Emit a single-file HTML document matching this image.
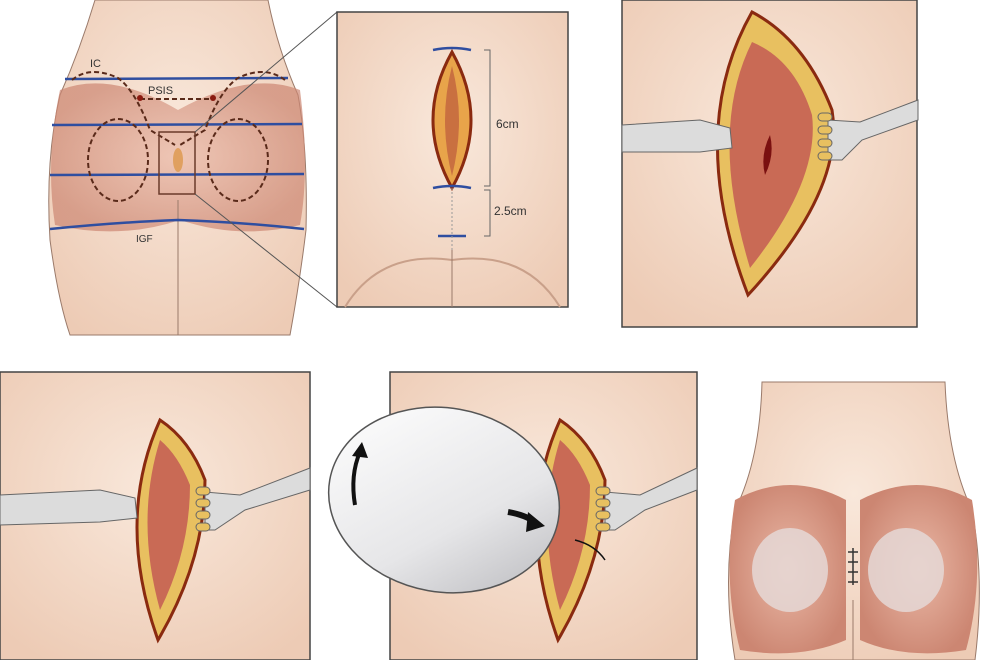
<!DOCTYPE html>
<html><head><style>body{margin:0;background:#fff}svg{display:block}</style></head><body>
<svg width="990" height="660" viewBox="0 0 990 660" xmlns="http://www.w3.org/2000/svg" font-family="Liberation Sans, sans-serif">
<defs>
<radialGradient id="m" cx="50%" cy="50%" r="55%"><stop offset="0" stop-color="#eab8a6"/><stop offset="1" stop-color="#cc8672"/></radialGradient>
<radialGradient id="sk" cx="50%" cy="40%" r="70%"><stop offset="0" stop-color="#f9e8db"/><stop offset="1" stop-color="#edcbb5"/></radialGradient>
<linearGradient id="imp" x1="0" y1="0" x2="1" y2="1"><stop offset="0" stop-color="#fff"/><stop offset="0.6" stop-color="#e6e6e8"/><stop offset="1" stop-color="#b8b8bc"/></linearGradient>
</defs>
<rect width="990" height="660" fill="#fff"/>
<path d="M95,0 Q80,50 60,95 Q45,160 50,240 Q58,300 70,335 L290,335 Q300,280 306,230 Q308,150 298,95 Q278,50 268,0 Z" fill="url(#sk)" stroke="#9a7a6a"/>
<path d="M60,90 Q110,70 178,110 Q250,70 300,90 Q310,170 300,225 Q240,240 180,220 Q120,240 55,225 Q45,160 60,90Z" fill="url(#m)" opacity="0.7"/>
<line x1="178" y1="200" x2="178" y2="335" stroke="#9a7a6a"/>
<g stroke="#2f4ea0" stroke-width="2.5" fill="none">
<path d="M65,79 L288,78"/><path d="M52,125 L302,124"/><path d="M50,175 L304,174"/><path d="M50,229 Q120,222 178,220 Q240,222 304,229"/>
</g>
<g stroke="#5a2a1a" stroke-width="2" fill="none" stroke-dasharray="5,3">
<ellipse cx="118" cy="160" rx="30" ry="41"/><ellipse cx="238" cy="160" rx="30" ry="41"/>
<path d="M72,80 Q90,65 118,78 Q135,90 150,130 L175,145"/><path d="M285,80 Q265,65 238,78 Q220,90 205,130 L180,145"/>
<path d="M140,99 L213,99"/>
</g>
<circle cx="140" cy="98" r="3" fill="#8a1a10"/><circle cx="213" cy="98" r="3" fill="#8a1a10"/>
<rect x="159" y="132" width="36" height="62" fill="none" stroke="#6a3a2a" stroke-width="1.5"/>
<ellipse cx="178" cy="160" rx="5" ry="12" fill="#e0a060"/>
<text x="90" y="67" font-size="11" fill="#333">IC</text>
<text x="148" y="94" font-size="11" fill="#333">PSIS</text>
<text x="136" y="242" font-size="10" fill="#333">IGF</text>
<line x1="195" y1="132" x2="337" y2="12" stroke="#555"/><line x1="195" y1="194" x2="337" y2="307" stroke="#555"/>
<rect x="337" y="12" width="231" height="295" fill="url(#sk)" stroke="#444" stroke-width="1.5"/>
<path d="M345,307 Q380,250 452,260 Q525,250 560,307" fill="none" stroke="#c9a08a" stroke-width="2"/>
<line x1="452" y1="250" x2="452" y2="307" stroke="#9a7a6a"/>
<path d="M452,52 Q414,120 452,188 Q490,120 452,52Z" fill="#e8a44a" stroke="#8a2a10" stroke-width="3"/>
<path d="M452,66 Q438,120 452,176 Q466,120 452,66Z" fill="#c97040"/>
<g stroke="#2f4ea0" stroke-width="2.5" fill="none"><path d="M433,50 Q452,46 471,50"/><path d="M433,188 Q452,184 471,188"/><path d="M438,236 L466,236"/></g>
<line x1="452" y1="188" x2="452" y2="250" stroke="#999" stroke-dasharray="2,2"/>
<g stroke="#666" fill="none"><path d="M484,50 L490,50 L490,186 L484,186"/><path d="M484,190 L490,190 L490,236 L484,236"/></g>
<text x="496" y="128" font-size="12" fill="#333">6cm</text>
<text x="494" y="215" font-size="12" fill="#333">2.5cm</text>
<rect x="622" y="0" width="295" height="327" fill="url(#sk)" stroke="#444" stroke-width="1.5"/>
<path d="M752,12 Q685,130 748,295 Q845,190 832,110 Q805,40 752,12Z" fill="#e8c060" stroke="#8a2a10" stroke-width="3"/>
<path d="M752,42 Q708,130 750,268 Q820,180 812,115 Q795,60 752,42Z" fill="#c96a55"/>
<path d="M770,135 Q760,155 765,175 Q775,155 770,135Z" fill="#7a1010"/>
<path d="M622,125 L700,120 L730,128 L732,148 L700,152 L622,152Z" fill="#dcdcdc" stroke="#666"/>
<path d="M918,100 L860,122 L828,120 L828,160 L842,160 L862,140 L918,120Z" fill="#dcdcdc" stroke="#666"/>
<g fill="#e8c060" stroke="#666"><rect x="818" y="113" width="14" height="8" rx="4"/><rect x="818" y="126" width="14" height="8" rx="4"/><rect x="818" y="139" width="14" height="8" rx="4"/><rect x="818" y="152" width="14" height="8" rx="4"/></g>
<rect x="0" y="372" width="310" height="288" fill="url(#sk)" stroke="#444" stroke-width="1.5"/>
<path d="M160,420 Q115,520 158,640 Q205,560 205,480 Q190,440 160,420Z" fill="#e8c060" stroke="#8a2a10" stroke-width="3"/>
<path d="M160,440 Q135,520 160,610 Q190,550 190,485 Q178,455 160,440Z" fill="#c96a55"/>
<path d="M0,495 L100,490 L135,498 L137,518 L100,522 L0,525Z" fill="#dcdcdc" stroke="#666"/>
<path d="M310,468 L240,495 L205,492 L205,530 L215,530 L245,510 L310,490Z" fill="#dcdcdc" stroke="#666"/>
<g fill="#e8c060" stroke="#666"><rect x="196" y="487" width="14" height="8" rx="4"/><rect x="196" y="499" width="14" height="8" rx="4"/><rect x="196" y="511" width="14" height="8" rx="4"/><rect x="196" y="523" width="14" height="8" rx="4"/></g>
<rect x="390" y="372" width="307" height="288" fill="url(#sk)" stroke="#444" stroke-width="1.5"/>
<path d="M560,420 Q515,520 558,640 Q605,560 605,480 Q590,440 560,420Z" fill="#e8c060" stroke="#8a2a10" stroke-width="3"/>
<path d="M560,440 Q535,520 560,610 Q590,550 590,485 Q578,455 560,440Z" fill="#c96a55"/>
<path d="M697,468 L640,495 L605,492 L605,530 L615,530 L645,510 L697,490Z" fill="#dcdcdc" stroke="#666"/>
<g fill="#e8c060" stroke="#666"><rect x="596" y="487" width="14" height="8" rx="4"/><rect x="596" y="499" width="14" height="8" rx="4"/><rect x="596" y="511" width="14" height="8" rx="4"/><rect x="596" y="523" width="14" height="8" rx="4"/></g>
<ellipse cx="444" cy="500" rx="116" ry="92" transform="rotate(10 444 500)" fill="url(#imp)" stroke="#555" stroke-width="1.5"/>
<path d="M355,505 Q350,475 360,452" fill="none" stroke="#111" stroke-width="4"/><path d="M352,456 L362,442 L368,458Z" fill="#111"/>
<path d="M508,512 Q525,515 535,522" fill="none" stroke="#111" stroke-width="6"/><path d="M528,512 L545,526 L526,532Z" fill="#111"/>
<path d="M575,540 Q595,545 605,560" fill="none" stroke="#111" stroke-width="1.5"/>
<path d="M762,382 Q760,460 735,510 Q722,580 735,660 L975,660 Q985,580 972,510 Q948,460 945,382 Z" fill="url(#sk)" stroke="#9a7a6a"/>
<path d="M735,500 Q790,470 846,500 L846,640 Q800,660 740,650 Q722,580 735,500Z" fill="url(#m)"/>
<path d="M972,500 Q917,470 860,500 L860,640 Q905,660 966,650 Q985,580 972,500Z" fill="url(#m)"/>
<ellipse cx="790" cy="570" rx="38" ry="42" fill="#e5d8d6" opacity="0.85"/>
<ellipse cx="906" cy="570" rx="38" ry="42" fill="#e5d8d6" opacity="0.85"/>
<line x1="853" y1="600" x2="853" y2="660" stroke="#9a7a6a"/>
<g stroke="#333" stroke-width="1.5"><path d="M848,552 L858,552 M848,562 L858,562 M848,572 L858,572 M848,582 L858,582 M853,548 L853,585"/></g>
</svg>
</body></html>
